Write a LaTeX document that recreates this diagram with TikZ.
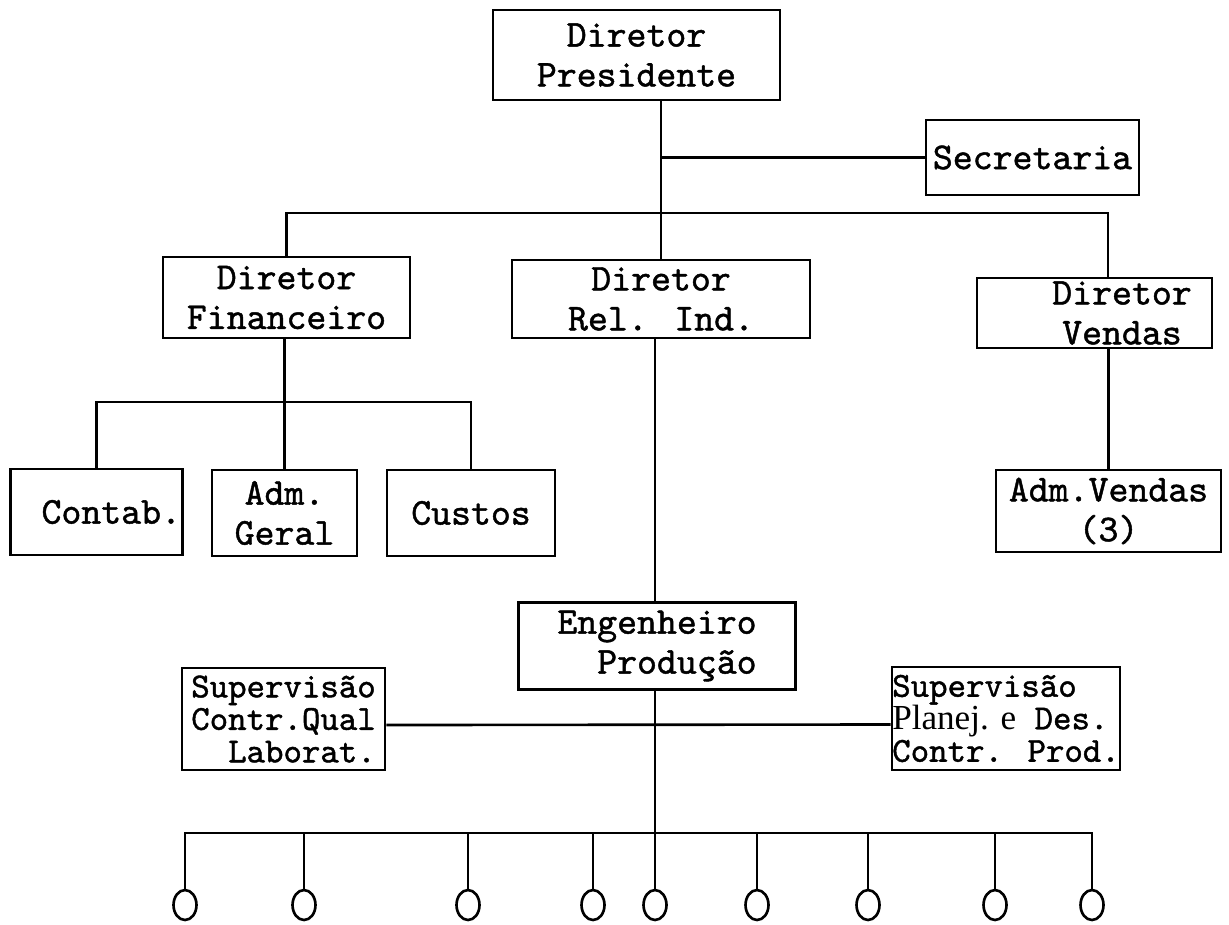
\documentclass[tikz,border=0pt]{standalone}
\usepackage{fontspec}
\newfontfamily\orgfont{lmmono10-regular.otf}[FakeBold=1.2]
\newfontfamily\typeserif{Liberation Serif}
\usetikzlibrary{shapes.geometric,positioning}

\begin{document}
\begin{tikzpicture}[x=0.02cm,y=-0.02cm]

\tikzset{
  orgbox/.style={draw=black, line width=1.5pt, fill=white,
                 font=\orgfont\fontsize{21.6}{22.7}\selectfont,
                 align=center, inner sep=1pt},
  supbox/.style={orgbox, align=left, inner sep=0pt,
                 font=\orgfont\fontsize{20}{18.5}\selectfont},
  link/.style={black, line width=1.5pt},
  worker/.style={ellipse, draw=black, line width=1.5pt,
                 minimum width=0.46cm, minimum height=0.6cm, inner sep=0pt}
}

% Frame
\useasboundingbox (0,0) rectangle (1229,924);

% Top level
\node[orgbox, minimum width=5.74cm, minimum height=1.8cm] (pres) at (636.5,55) {Diretor\\Presidente};
\node[orgbox, minimum width=4.26cm, minimum height=1.5cm] (secr) at (1032.5,157.5) {Secretaria};

% Directors
\node[orgbox, minimum width=4.94cm, minimum height=1.62cm] (fin) at (286.5,297.5) {Diretor\\Financeiro};
\node[orgbox, minimum width=5.96cm, minimum height=1.56cm] (rel) at (661,299) {Diretor\\Rel. Ind.};
\node[orgbox, minimum width=4.7cm, minimum height=1.4cm] (vend) at (1094.5,313) {\hspace*{1.1cm}Diretor\\\hspace*{1.1cm}Vendas};

% Departments
\node[orgbox, align=right, text width=3.38cm, minimum height=1.72cm] (contab) at (96.5,512) {Contab.};
\node[orgbox, minimum width=2.9cm, minimum height=1.72cm] (geral) at (284.5,513) {Adm.\\Geral};
\node[orgbox, minimum width=3.36cm, minimum height=1.72cm] (custos) at (471,513) {Custos};
\node[orgbox, minimum width=4.5cm, minimum height=1.64cm] (admv) at (1108.5,511) {Adm.Vendas\\(3)};

% Production
\node[orgbox, align=left, minimum width=5.54cm, minimum height=1.74cm] (eng) at (657,646) {Engenheiro\\\phantom{xx}Produção};
\node[supbox, minimum width=4.06cm, minimum height=2.04cm] (supL) at (283.5,719) {Supervisão\\Contr.Qual\\\phantom{xx}Laborat.};
\node[supbox, minimum width=4.56cm, minimum height=2.06cm] (supR) at (1006,718.5) {Supervisão\\{\typeserif Planej. e} Des.\\Contr. Prod.};

% Workers
\foreach \i/\x in {1/185, 2/304, 3/468, 4/593, 5/655, 6/757, 7/868, 8/995, 9/1092}
  \node[worker] (c\i) at (\x,905) {};

% Bus levels
\coordinate (tbus) at (0,213);
\coordinate (vtap) at (1108,213);
\coordinate (sbus) at (0,402);
\coordinate (bbus) at (0,833);

% Lines
\draw[link] (pres.south -| rel.north) -- (rel.north);
\draw[link] (rel.north |- secr.west) -- (secr.west);
\draw[link] (fin.north) -- (fin.north |- tbus) -- (vtap) -- (vtap |- vend.north);
\draw[link] (fin.south -| geral.north) -- (geral.north);
\draw[link] (contab.north) -- (contab.north |- sbus) -- (custos.north |- sbus) -- (custos.north);
\draw[link] (vend.south -| admv.north) -- (admv.north);
\draw[link] (rel.south -| c5.north) -- (eng.north -| c5.north);
\draw[link] (eng.south -| c5.north) -- (c5.north);
\draw[link] ([yshift=-0.12cm]supL.east) -- ([yshift=-0.12cm]supR.west);
\draw[link] (c1.north) -- (c1.north |- bbus) -- (c9.north |- bbus) -- (c9.north);
\foreach \i in {2,3,4,6,7,8}
  \draw[link] (c\i.north |- bbus) -- (c\i.north);

\end{tikzpicture}
\end{document}
